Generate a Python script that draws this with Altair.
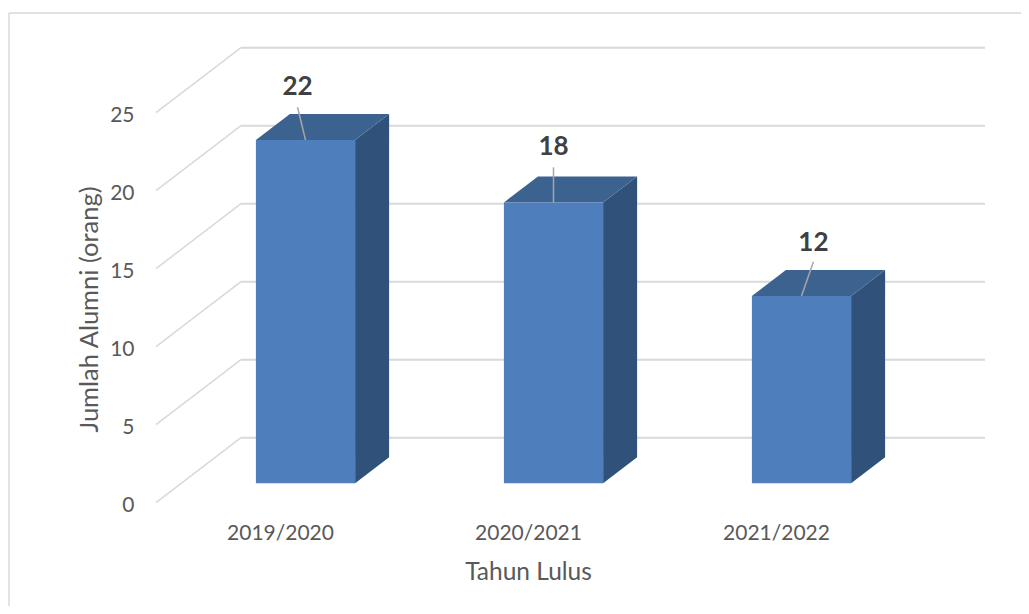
import altair as alt
import pandas as pd

# --- values ---
categories = ["2019/2020", "2020/2021", "2021/2022"]
alumni = [22, 18, 12]
leader_dx = [-0.032, 0.0, 0.048]   # lean of each data-label leader, category units
leader_dy = [2.1, 2.25, 2.2]       # length of the leader, value units
label_dy = [3.40, 3.53, 3.40]      # height of label centre above the bar
grid_values = [0, 5, 10, 15, 20, 25]
tick_positions = [0.5, 1.5, 2.5]

# oblique 3-D projection: one unit of depth shifts by these amounts
DEPTH_X = 85 / 248
DEPTH_Y = 65 / 15.6
BAR_U0, BAR_U1 = 0.3, 0.7
BAR_D0, BAR_D1 = 0.3, 0.7

FONT = "Lato"
TEXT = "#595959"
GRID = "#d9d9d9"
FRONT = "#4e7fbc"
TOP = "#3c6390"
SIDE = "#30527a"

W, H = 1013, 598
x_scale = alt.Scale(domain=[-148 / 248, (W - 148) / 248], nice=False, zero=False)
y_scale = alt.Scale(domain=[(494.7 - H) / 15.6, 494.7 / 15.6], nice=False, zero=False)


def px(u, d):
    return u + d * DEPTH_X


def py(v, d):
    return v + d * DEPTH_Y


# Walls
diag = []
back = []
for v in grid_values:
    diag += [{"v": v, "x": px(0, 0), "y": py(v, 0)}, {"v": v, "x": px(0, 1), "y": py(v, 1)}]
    back += [{"v": v, "x": px(0, 1), "y": py(v, 1)}, {"v": v, "x": px(3, 1), "y": py(v, 1)}]

# Bar faces
front, side, top, leader, labels = [], [], [], [], []
for i, (c, v) in enumerate(zip(categories, alumni)):
    u0, u1 = i + BAR_U0, i + BAR_U1
    front.append({"c": c, "x": px(u0, BAR_D0), "x2": px(u1, BAR_D0), "y": py(0, BAR_D0), "y2": py(v, BAR_D0)})
    side += [
        {"c": c, "x": px(u1, BAR_D0), "y": py(0, BAR_D0), "y2": py(v, BAR_D0)},
        {"c": c, "x": px(u1, BAR_D1), "y": py(0, BAR_D1), "y2": py(v, BAR_D1)},
    ]
    top += [
        {"c": c, "x": px(u0, BAR_D0), "y": py(v, BAR_D0), "y2": py(v, BAR_D0)},
        {"c": c, "x": px(u0, BAR_D1), "y": py(v, BAR_D0), "y2": py(v, BAR_D1)},
        {"c": c, "x": px(u1, BAR_D0), "y": py(v, BAR_D0), "y2": py(v, BAR_D1)},
        {"c": c, "x": px(u1, BAR_D1), "y": py(v, BAR_D1), "y2": py(v, BAR_D1)},
    ]
    mid = px((u0 + u1) / 2, BAR_D0)
    base = py(v, BAR_D0)
    leader.append({"x": mid, "y": base, "x2": mid + leader_dx[i], "y2": base + leader_dy[i]})
    labels.append({"x": mid + leader_dx[i], "y": base + label_dy[i], "t": str(v)})

x_axis = alt.Axis(
    values=tick_positions,
    labelExpr="['2019/2020','2020/2021','2021/2022'][floor(datum.value)]",
    title="Tahun Lulus", grid=False, domain=False, ticks=False,
    offset=-73, labelPadding=0, labelBaseline="middle", labelFont=FONT, labelFontSize=21,
    labelColor=TEXT, labelFlush=False, labelOverlap=False,
    titleFont=FONT, titleFontSize=24.5, titleColor=TEXT, titleFontWeight="normal",
    titleX=520, titleY=39, titleBaseline="middle",
)
y_axis = alt.Axis(
    values=grid_values, title="Jumlah Alumni (orang)", grid=False, domain=False, ticks=False,
    offset=-126, labelPadding=0, labelOffset=2.5, labelFont=FONT, labelFontSize=21, labelColor=TEXT,
    labelFlush=False, labelOverlap=False,
    titleFont=FONT, titleFontSize=25.5, titleColor=TEXT, titleFontWeight="normal",
    titleX=-45, titleY=301, titleBaseline="middle",
)
X = alt.X("x:Q", scale=x_scale, axis=x_axis)
Y = alt.Y("y:Q", scale=y_scale, stack=None, axis=y_axis)

frame_left = alt.Chart(pd.DataFrame({"k": [0]})).mark_rule(color=GRID, strokeWidth=1.5).encode(
    x=alt.value(1), y=alt.value(5), y2=alt.value(H)
)
frame_top = alt.Chart(pd.DataFrame({"k": [0]})).mark_rule(color=GRID, strokeWidth=1.5).encode(
    x=alt.value(1), x2=alt.value(W), y=alt.value(5)
)

diag_lines = alt.Chart(pd.DataFrame(diag)).mark_line(color=GRID, strokeWidth=1.5).encode(
    x=X, y=Y, detail="v:N"
)
back_lines = alt.Chart(pd.DataFrame(back)).mark_line(color=GRID, strokeWidth=2).encode(
    x=X, y=Y, detail="v:N"
)
side_face = alt.Chart(pd.DataFrame(side)).mark_area(color=SIDE, opacity=1).encode(
    x=X, y=Y, y2="y2:Q", detail="c:N"
)
top_face = alt.Chart(pd.DataFrame(top)).mark_area(color=TOP, opacity=1).encode(
    x=X, y=Y, y2="y2:Q", detail="c:N"
)
front_face = alt.Chart(pd.DataFrame(front)).mark_rect(color=FRONT, opacity=1).encode(
    x=X, x2="x2:Q", y=Y, y2="y2:Q"
)
leaders = alt.Chart(pd.DataFrame(leader)).mark_rule(color="#a6a6a6", strokeWidth=1.5).encode(
    x=X, x2="x2:Q", y=Y, y2="y2:Q"
)
data_labels = alt.Chart(pd.DataFrame(labels)).mark_text(
    font=FONT, fontSize=26, fontWeight="bold", color="#404040", baseline="middle", align="center"
).encode(x=X, y=Y, text="t:N")

chart = alt.layer(
    frame_left, frame_top, diag_lines, back_lines, side_face, top_face, front_face, leaders, data_labels
).properties(
    width=W, height=H, padding=0, autosize=alt.AutoSizeParams(type="none"), background="white"
).configure_view(stroke=None)

chart.save("out.html", embed_options={"renderer": "svg", "actions": False})
